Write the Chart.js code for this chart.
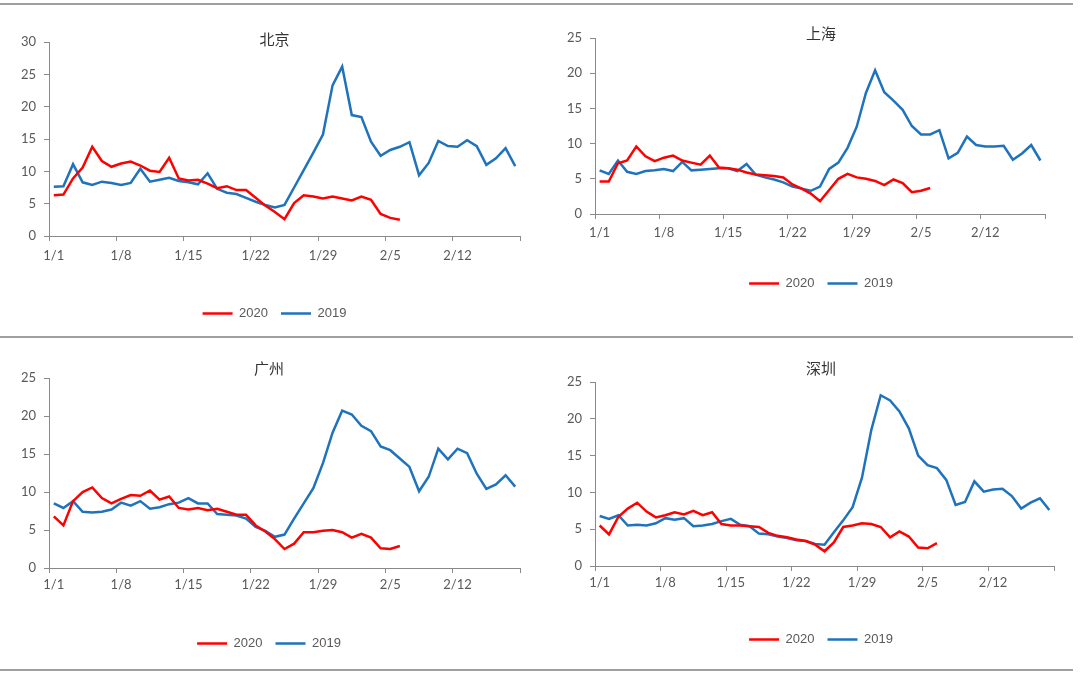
<!DOCTYPE html>
<html>
<head>
<meta charset="utf-8">
<script src="https://cdn.jsdelivr.net/npm/chart.js@4.4.1/dist/chart.umd.min.js"></script>
<style>
html, body { margin:0; padding:0; background:#ffffff; width:1080px; height:676px; overflow:hidden; }
.sep { position:absolute; left:0; width:1073px; height:2px; background:#9f9f9f; }
.box { position:absolute; }
.box canvas { display:block; }
</style>
</head>
<body>
<div class="sep" style="top:3px"></div>
<div class="sep" style="top:336px"></div>
<div class="sep" style="top:669px"></div>
<div class="box" id="b1"><canvas id="c1"></canvas></div>
<div class="box" id="b2"><canvas id="c2"></canvas></div>
<div class="box" id="b3"><canvas id="c3"></canvas></div>
<div class="box" id="b4"><canvas id="c4"></canvas></div>
<script>
// ---- data ----
const categories = ['1/1','1/2','1/3','1/4','1/5','1/6','1/7','1/8','1/9','1/10','1/11','1/12','1/13','1/14','1/15','1/16','1/17','1/18','1/19','1/20','1/21','1/22','1/23','1/24','1/25','1/26','1/27','1/28','1/29','1/30','1/31','2/1','2/2','2/3','2/4','2/5','2/6','2/7','2/8','2/9','2/10','2/11','2/12','2/13','2/14','2/15','2/16','2/17','2/18'];
const xTickLabels = ['1/1','1/8','1/15','1/22','1/29','2/5','2/12'];
const seriesNames = ['2020','2019'];
const cityNames = ['北京','上海','广州','深圳'];

const bj2020 = [6.3,6.4,8.9,10.6,13.8,11.6,10.7,11.2,11.5,10.9,10.1,9.9,12.1,8.9,8.6,8.7,8.1,7.4,7.7,7.1,7.1,5.9,4.7,3.7,2.6,5.1,6.3,6.1,5.8,6.1,5.8,5.5,6.1,5.6,3.4,2.8,2.5];
const bj2019 = [7.6,7.7,11.1,8.3,7.9,8.4,8.2,7.9,8.2,10.4,8.4,8.7,9.0,8.5,8.3,8.0,9.7,7.3,6.7,6.5,5.9,5.3,4.8,4.4,4.8,7.5,10.2,12.9,15.7,23.3,26.2,18.7,18.4,14.6,12.4,13.3,13.8,14.5,9.4,11.3,14.7,13.9,13.8,14.8,13.9,11.0,12.0,13.6,10.8];

const sh2020 = [4.6,4.6,7.2,7.6,9.6,8.2,7.5,8.0,8.3,7.6,7.3,7.0,8.3,6.6,6.5,6.3,5.9,5.6,5.5,5.4,5.2,4.2,3.6,2.9,1.8,3.4,5.0,5.7,5.2,5.0,4.7,4.1,4.9,4.4,3.1,3.3,3.7];
const sh2019 = [6.2,5.7,7.6,6.0,5.7,6.1,6.2,6.4,6.1,7.4,6.2,6.3,6.4,6.5,6.5,6.1,7.1,5.6,5.2,4.9,4.5,3.9,3.6,3.3,3.9,6.4,7.3,9.4,12.4,17.2,20.4,17.3,16.1,14.8,12.5,11.3,11.3,11.9,7.9,8.7,11.0,9.8,9.6,9.6,9.7,7.7,8.6,9.8,7.6];

const gz2020 = [6.8,5.6,8.8,10.0,10.6,9.2,8.5,9.1,9.6,9.5,10.2,9.0,9.4,7.9,7.7,7.9,7.6,7.8,7.4,7.0,7.0,5.6,4.8,3.8,2.5,3.2,4.7,4.7,4.9,5.0,4.7,4.0,4.5,4.0,2.6,2.5,2.9];
const gz2019 = [8.5,7.9,8.8,7.4,7.3,7.4,7.7,8.6,8.2,8.8,7.8,8.0,8.4,8.6,9.2,8.5,8.5,7.1,7.0,6.9,6.5,5.4,4.9,4.1,4.4,6.5,8.5,10.5,13.8,17.8,20.7,20.2,18.7,18.0,16.0,15.5,14.4,13.3,10.1,12.0,15.7,14.3,15.7,15.1,12.4,10.4,11.0,12.2,10.7];

const sz2020 = [5.5,4.3,6.7,7.8,8.6,7.4,6.6,6.9,7.3,7.0,7.5,6.9,7.3,5.7,5.5,5.5,5.4,5.3,4.5,4.1,3.9,3.6,3.4,2.9,2.0,3.2,5.3,5.5,5.8,5.7,5.3,3.9,4.7,4.0,2.5,2.4,3.1];
const sz2019 = [6.8,6.4,6.9,5.5,5.6,5.5,5.8,6.5,6.3,6.5,5.4,5.5,5.7,6.1,6.4,5.6,5.4,4.4,4.3,4.0,3.8,3.5,3.4,3.0,2.9,4.6,6.2,8.0,12.0,18.5,23.2,22.5,21.0,18.7,15.0,13.7,13.3,11.7,8.3,8.7,11.5,10.1,10.4,10.5,9.5,7.8,8.6,9.2,7.6];

const yMaxes = [30, 25, 25, 25];

// ---- styling ----
const RED = '#ff0000';
const BLUE = '#1f73bd';
const AXIS = '#8a8a8a';
const TICKTXT = '#595959';

// layout per panel (canvas box, title padding, axis sizes)
const panels = [
  { id: 1, d20: bj2020, d19: bj2019, left: 9,   top: 6,   width: 531, height: 324, tTop: 24, tBot: -6, xPad: 7.2, legT: 28, rW: 20 },
  { id: 2, d20: sh2020, d19: sh2019, left: 555, top: 6,   width: 532, height: 294, tTop: 18, tBot: -4, xPad: 6.2, legT: 20, rW: 42 },
  { id: 3, d20: gz2020, d19: gz2019, left: 9,   top: 340, width: 520, height: 320, tTop: 19, tBot: 1,  xPad: 4.2, legT: 26, rW: 9 },
  { id: 4, d20: sz2020, d19: sz2019, left: 555, top: 340, width: 532, height: 316, tTop: 19, tBot: 5,  xPad: 4.2, legT: 24, rW: 33 }
];

function isMajor(idx) {
  if (idx === undefined || idx === null) return true; // closing boundary
  return xTickLabels.includes(categories[idx]);
}

panels.forEach((p, k) => {
  const box = document.getElementById('b' + p.id);
  box.style.left = p.left + 'px';
  box.style.top = p.top + 'px';
  box.style.width = p.width + 'px';
  box.style.height = p.height + 'px';
  new Chart(document.getElementById('c' + p.id), {
    type: 'line',
    data: {
      labels: categories,
      datasets: [
        { label: seriesNames[0], data: p.d20, borderColor: RED, backgroundColor: RED, borderWidth: 2.5, pointRadius: 0, pointHoverRadius: 0, tension: 0, fill: false },
        { label: seriesNames[1], data: p.d19, borderColor: BLUE, backgroundColor: BLUE, borderWidth: 2.5, pointRadius: 0, pointHoverRadius: 0, tension: 0, fill: false }
      ]
    },
    options: {
      responsive: true,
      maintainAspectRatio: false,
      animation: false,
      events: [],
      layout: { padding: 0 },
      plugins: {
        title: {
          display: true, text: cityNames[k], color: '#333333',
          font: { family: '"Noto Sans CJK SC", sans-serif', size: 15, weight: 'normal', lineHeight: 1.2 },
          padding: { top: p.tTop, bottom: p.tBot }
        },
        legend: {
          display: true, position: 'bottom', align: 'center',
          title: { display: true, text: '', font: { size: 1, lineHeight: 1 }, padding: { top: p.legT - 1, bottom: 0 } },
          labels: {
            usePointStyle: true, pointStyle: 'line', pointStyleWidth: 30, padding: 13,
            color: TICKTXT, font: { family: '"Liberation Sans", Arial, sans-serif', size: 13 }
          }
        },
        tooltip: { enabled: false }
      },
      scales: {
        x: {
          type: 'category', offset: true,
          grid: {
            offset: true, drawOnChartArea: false, drawTicks: true, tickLength: 5, tickWidth: 1,
            tickColor: (ctx) => isMajor(ctx.index) ? AXIS : 'rgba(0,0,0,0)'
          },
          border: { display: true, color: AXIS, width: 1 },
          ticks: {
            autoSkip: false, maxRotation: 0, minRotation: 0, padding: p.xPad, color: TICKTXT,
            font: { family: 'Lato, sans-serif', size: 13 },
            callback: function (v, i) { const l = categories[i]; return xTickLabels.includes(l) ? l : ''; }
          },
          afterFit: (s) => { s.height = 30; }
        },
        y: {
          type: 'linear', position: 'left', min: 0, max: yMaxes[k],
          grid: { drawOnChartArea: false, drawTicks: true, tickLength: 5, tickWidth: 1, tickColor: AXIS },
          border: { display: true, color: AXIS, width: 1 },
          ticks: { stepSize: 5, padding: 8, color: TICKTXT, font: { family: 'Lato, sans-serif', size: 13 } },
          afterFit: (s) => { s.width = 40; }
        },
        yr: {
          type: 'linear', axis: 'y', position: 'right', display: true,
          grid: { display: false, drawTicks: false }, border: { display: false },
          ticks: { display: false },
          afterFit: (s) => { s.width = p.rW; }
        }
      }
    }
  });
});
</script>
</body>
</html>
